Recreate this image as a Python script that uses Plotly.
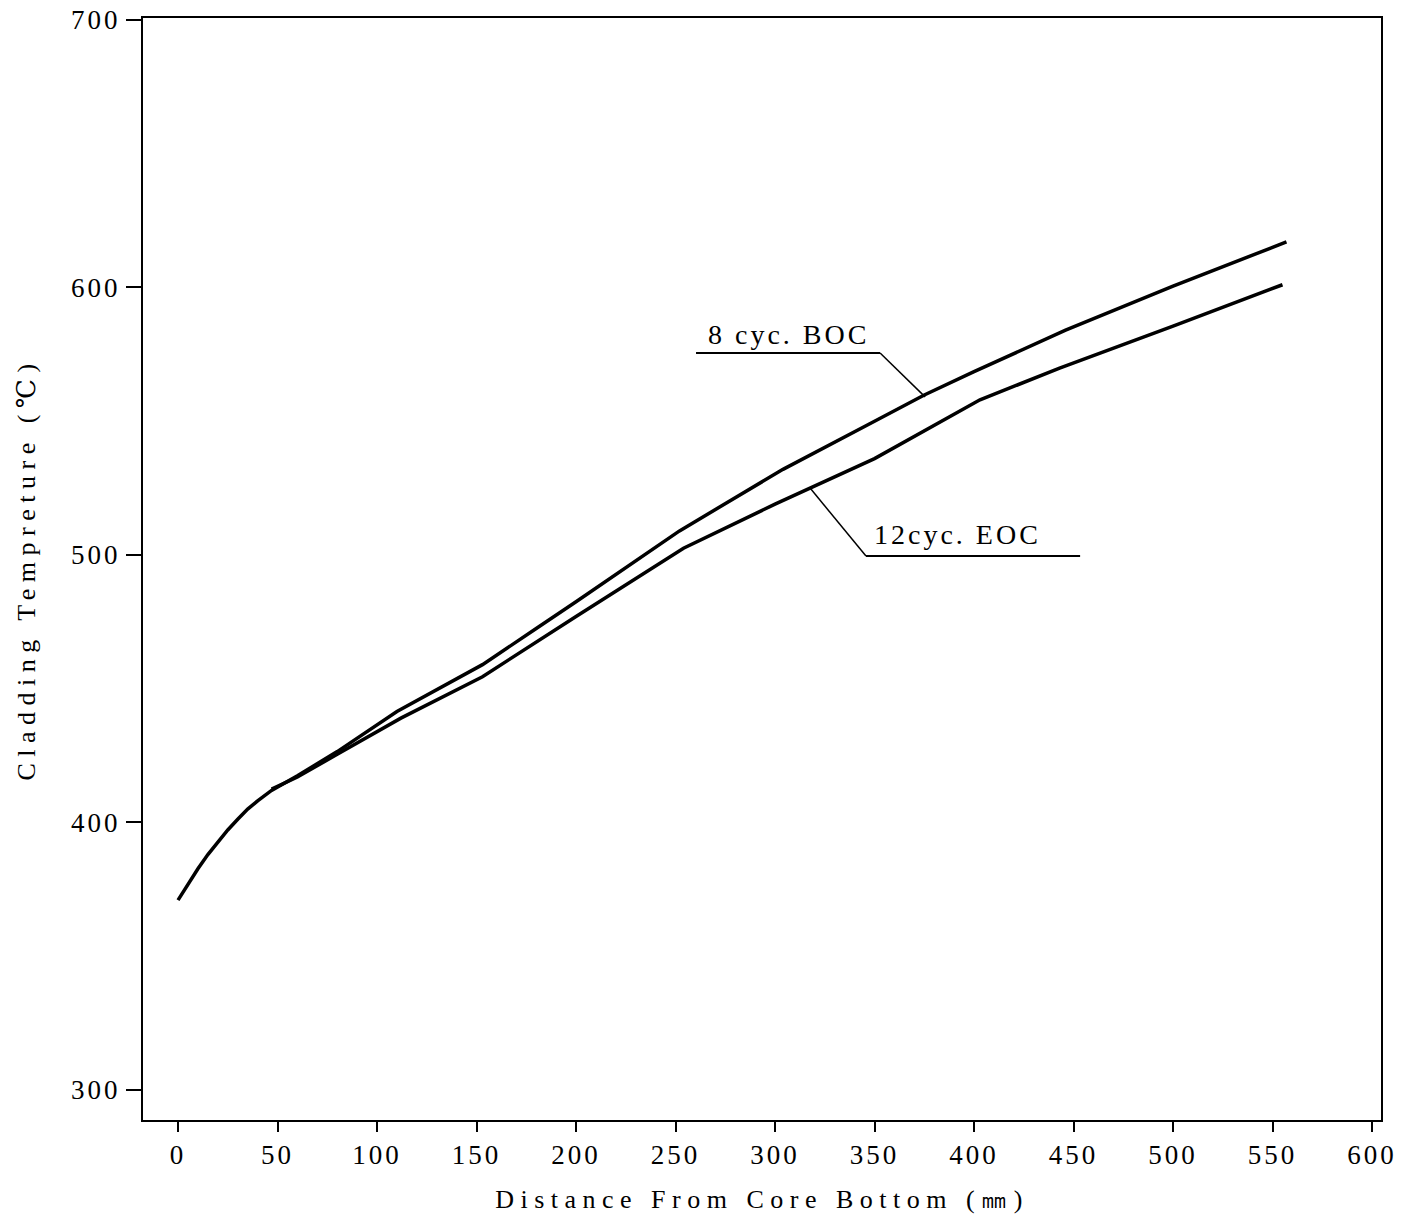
import plotly.graph_objects as go

# ---- data ----
boc_x = [0, 5, 10, 15, 20, 25, 30, 35, 40, 47, 60, 80, 110, 153, 180, 200, 252, 304, 350, 375, 400, 446, 500, 557]
boc_y = [371, 377, 382.7, 388, 392.7, 397.2, 401.2, 405, 408.1, 412, 417.5, 426.5, 441.5, 459, 472.5, 482.5, 509, 532, 550, 559.8, 568.5, 584, 600.5, 617]

eoc_x = [47, 60, 80, 112, 153, 185, 200, 254, 300, 350, 403, 443, 500, 555]
eoc_y = [412.5, 417, 425.5, 439, 454.5, 470, 477, 502.5, 519, 536, 558, 569.8, 585.5, 601]

x_ticks = [0, 50, 100, 150, 200, 250, 300, 350, 400, 450, 500, 550, 600]
y_ticks = [300, 400, 500, 600, 700]

x_title = "Distance From Core Bottom (㎜)"
y_title = "Cladding Tempreture (℃)"

boc_label = "8 cyc. BOC"
eoc_label = "12cyc. EOC"
# label callout geometry (data units): underline start, underline end, leader end
boc_call = dict(u0=(260.3, 575.5), u1=(352.8, 575.5), lead=(375.4, 559.1))
eoc_call = dict(u0=(345.7, 499.6), u1=(453.3, 499.6), lead=(317.6, 525.0))

FONT = "Liberation Serif, DejaVu Serif, serif"

fig = go.Figure()
fig.add_trace(go.Scatter(x=boc_x, y=boc_y, mode="lines", name=boc_label,
                         line=dict(color="black", width=3.5)))
fig.add_trace(go.Scatter(x=eoc_x, y=eoc_y, mode="lines", name=eoc_label,
                         line=dict(color="black", width=3.5)))

shapes = []
for c in (boc_call, eoc_call):
    shapes.append(dict(type="line", xref="x", yref="y", x0=c["u0"][0], y0=c["u0"][1],
                       x1=c["u1"][0], y1=c["u1"][1], line=dict(color="black", width=2)))
shapes.append(dict(type="line", xref="x", yref="y", x0=boc_call["u1"][0], y0=boc_call["u1"][1],
                   x1=boc_call["lead"][0], y1=boc_call["lead"][1], line=dict(color="black", width=1.5)))
shapes.append(dict(type="line", xref="x", yref="y", x0=eoc_call["u0"][0], y0=eoc_call["u0"][1],
                   x1=eoc_call["lead"][0], y1=eoc_call["lead"][1], line=dict(color="black", width=1.5)))

annotations = [
    dict(text=boc_label, x=boc_call["u0"][0], y=boc_call["u0"][1], xref="x", yref="y",
         xanchor="left", yanchor="bottom", showarrow=False, xshift=25, yshift=1,
         font=dict(family=FONT, size=28, color="black")),
    dict(text=eoc_label, x=eoc_call["u0"][0], y=eoc_call["u0"][1], xref="x", yref="y",
         xanchor="left", yanchor="bottom", showarrow=False, xshift=21, yshift=4,
         font=dict(family=FONT, size=28, color="black")),
]

fig.update_layout(
    width=1408, height=1221,
    margin=dict(l=143, r=27, t=18, b=101),
    paper_bgcolor="white", plot_bgcolor="white",
    showlegend=False,
    shapes=shapes, annotations=annotations,
    font=dict(family=FONT, color="black", size=26),
)
fig.update_xaxes(
    range=[-17.6, 604.5], tickvals=x_ticks, ticktext=[str(v) for v in x_ticks],
    showgrid=False, zeroline=False, showline=True, linecolor="black", linewidth=2,
    mirror=True, ticks="outside", ticklen=10, tickwidth=2, tickcolor="black",
    automargin=False,
    tickfont=dict(family=FONT, size=27, color="black"),
    title=dict(text=x_title, font=dict(family=FONT, size=26, color="black"), standoff=20),
)
fig.update_yaxes(
    range=[288.8, 700.7], tickvals=y_ticks, ticktext=[str(v) for v in y_ticks],
    showgrid=False, zeroline=False, showline=True, linecolor="black", linewidth=2,
    mirror=True, ticks="outside", ticklen=15, tickwidth=2, tickcolor="black",
    automargin=False,
    tickfont=dict(family=FONT, size=27, color="black"),
    title=dict(text=y_title, font=dict(family=FONT, size=26, color="black"), standoff=37),
)

post = """
document.body.style.margin = '0';
var gd = document.getElementById('{plot_id}');
function sp(){
  gd.querySelectorAll('.xtitle').forEach(function(e){e.style.letterSpacing='6.5px';});
  gd.querySelectorAll('.ytitle').forEach(function(e){e.style.letterSpacing='6.5px';});
  gd.querySelectorAll('.xtick text, .ytick text').forEach(function(e){e.style.letterSpacing='3px';});
  gd.querySelectorAll('.annotation-text').forEach(function(e){e.style.letterSpacing='3px';});
}
sp();
gd.on('plotly_afterplot', sp);
"""

fig.write_html("out.html", post_script=post, config={"displayModeBar": False})
